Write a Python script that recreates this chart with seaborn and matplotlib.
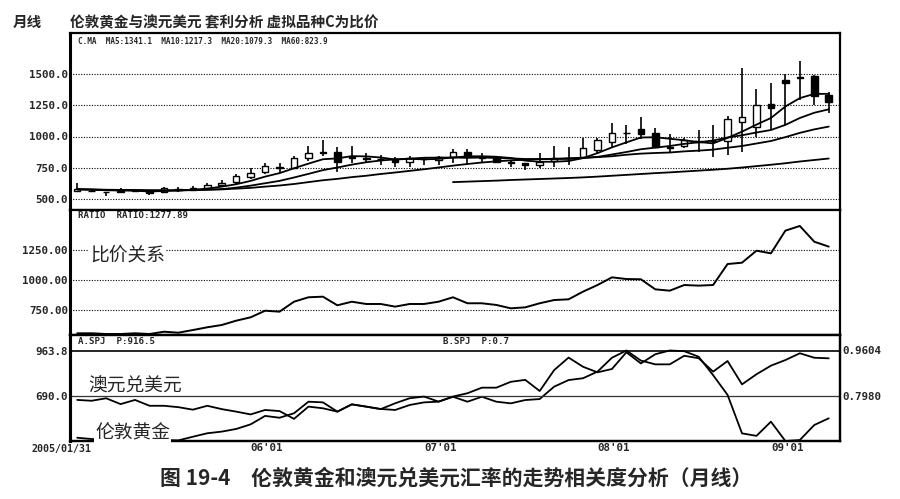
import numpy as np
import pandas as pd
import matplotlib
matplotlib.use("Agg")
import matplotlib.pyplot as plt
import seaborn as sns

# monthly bars 2005/01 .. 2009/05
c_open = [566, 567, 558, 553, 567, 565, 555, 582, 574, 585, 615, 635, 680, 715, 760, 752, 825, 872,
          879, 832, 830, 818, 818, 800, 822, 815, 833, 879, 840, 833, 800, 787, 775, 805, 830, 840,
          895, 960, 1025, 1057, 1025, 915, 925, 968, 962, 967, 1115, 1075, 1260, 1455, 1468, 1484, 1332]
c_high = [625, 570, 560, 585, 575, 568, 598, 596, 602, 630, 655, 700, 752, 785, 790, 844, 924, 975,
          913, 924, 870, 852, 833, 844, 833, 844, 897, 897, 871, 845, 805, 790, 871, 924, 913, 985,
          985, 1111, 1092, 1159, 1065, 1020, 985, 1052, 1092, 1164, 1545, 1377, 1425, 1500, 1607, 1492, 1359]
c_low = [559, 556, 525, 548, 558, 535, 548, 556, 565, 572, 600, 620, 660, 700, 712, 737, 807, 845,
         718, 785, 800, 772, 753, 753, 772, 772, 785, 772, 785, 785, 760, 732, 745, 759, 772, 825,
         871, 919, 940, 977, 905, 880, 910, 879, 839, 852, 879, 993, 1052, 1092, 1292, 1252, 1185]
c_close = [582, 561, 553, 567, 565, 552, 585, 574, 592, 612, 630, 684, 705, 764, 752, 825, 870, 880,
           800, 838, 818, 824, 800, 825, 820, 838, 879, 844, 830, 800, 787, 775, 800, 830, 826, 905,
           972, 1030, 1030, 1022, 915, 912, 972, 960, 965, 1137, 1159, 1252, 1228, 1425, 1473, 1325, 1278]

ma5 = [578, 575, 570, 568, 566, 560, 564, 569, 574, 583, 599, 618, 645, 679, 707, 746, 783, 818,
       825, 843, 841, 832, 816, 821, 817, 821, 832, 841, 842, 838, 828, 807, 798, 798, 804, 827,
       867, 913, 953, 992, 994, 982, 970, 956, 945, 989, 1039, 1095, 1148, 1240, 1307, 1341, 1341.1]
ma10 = [577, 575, 573, 572, 571, 568, 569, 569, 571, 574, 579, 591, 607, 626, 645, 672, 701, 731,
        752, 775, 794, 808, 817, 823, 830, 831, 832, 829, 832, 828, 825, 820, 820, 820, 821, 828,
        837, 856, 876, 898, 911, 924, 941, 954, 968, 992, 1010, 1032, 1052, 1093, 1148, 1190, 1217.3]
ma20 = [578, 576, 574, 573, 572, 570, 569, 569, 572, 575, 577, 583, 589, 599, 608, 620, 635, 650,
        661, 675, 686, 700, 712, 725, 738, 752, 767, 780, 792, 801, 809, 814, 819, 822, 826, 830,
        835, 842, 854, 863, 868, 872, 881, 887, 895, 910, 924, 944, 964, 995, 1029, 1057, 1079.3]
ma60_start = 26
ma60 = [635, 639, 643, 647, 652, 656, 660, 664, 668, 673, 679, 686, 693, 700, 707, 713, 720, 727,
        734, 742, 752, 763, 774, 786, 800, 812, 823.9]

ratio = [556, 556, 550, 550, 556, 550, 569, 561, 583, 606, 625, 661, 689, 744, 736, 819, 856, 861,
         789, 819, 800, 800, 778, 800, 800, 819, 856, 806, 806, 792, 764, 772, 806, 833, 839, 903,
         958, 1022, 1008, 1006, 922, 911, 958, 953, 958, 1133, 1144, 1244, 1222, 1411, 1450, 1319, 1277.89]

gold = [436, 428, 428, 422, 427, 416.2, 422, 420, 442, 463, 473, 489, 517, 568, 557, 584, 654, 650,
        594, 638, 624, 610, 604, 634, 650, 654, 684, 654, 684, 654, 644, 664, 670, 745, 785, 796,
        836, 920, 963.8, 903, 880, 880, 932, 917, 836, 900, 759, 820, 872, 906, 947, 920, 916.5]
aud = [0.783, 0.780, 0.789, 0.768, 0.783, 0.762, 0.762, 0.757, 0.748, 0.762, 0.750, 0.741, 0.731,
       0.747, 0.743, 0.715, 0.759, 0.753, 0.741, 0.767, 0.759, 0.750, 0.771, 0.789, 0.795, 0.777,
       0.795, 0.807, 0.827, 0.827, 0.848, 0.855, 0.815, 0.890, 0.935, 0.902, 0.882, 0.894, 0.954,
       0.914, 0.947, 0.9604, 0.958, 0.938, 0.872, 0.801, 0.663, 0.654, 0.705, 0.6356, 0.639, 0.693, 0.717]

date_ticks = [12, 24, 36, 48]
date_labels = ["06'01", "07'01", "08'01", "09'01"]

sns.set_style("white")
plt.rcParams['font.family'] = ['Noto Sans CJK SC', 'DejaVu Sans']
MONO = 'DejaVu Sans Mono'

fig = plt.figure(figsize=(9, 4.99), dpi=100)
W, H = 900, 499


def box(top, bottom):
    return [70 / W, 1 - bottom / H, 770 / W, (bottom - top) / H]


ax1 = fig.add_axes(box(33, 210))
ax2 = fig.add_axes(box(210, 335))
ax3 = fig.add_axes(box(335, 441))
ax3r = ax3.twinx()

bars = np.arange(len(c_close))
dot = (0, (1, 1.4))

# --- panel 1: candles + moving averages
df = pd.DataFrame({'bar': bars, 'o': c_open, 'h': c_high, 'l': c_low, 'c': c_close})
up = df['c'] >= df['o']
ax1.vlines(df['bar'], df['l'], df['h'], color='black', lw=1.2, zorder=3)
span = (df['c'] - df['o']).abs()
body = span.clip(lower=5)
bottom = np.minimum(df['o'], df['c']) - (body - span) / 2
ax1.bar(df['bar'], body, bottom=bottom, width=0.45,
        color=np.where(up, 'white', 'black'), edgecolor='black', linewidth=1.0, zorder=4)
for ma in (ma5, ma10, ma20):
    sns.lineplot(x=bars, y=ma, ax=ax1, color='black', linewidth=1.3, zorder=5)
sns.lineplot(x=bars[ma60_start:], y=ma60, ax=ax1, color='black', linewidth=1.3, zorder=5)
ax1.set_ylim(412, 1828)
grid1 = [500, 750, 1000, 1250, 1500]
for v in grid1:
    ax1.axhline(v, color='black', lw=0.8, ls=dot, zorder=1)
ax1.set_yticks(grid1, [f"{v:.1f}" for v in grid1])

# --- panel 2: ratio line
sns.lineplot(x=bars, y=ratio, ax=ax2, color='black', linewidth=1.4)
ax2.set_ylim(541.7, 1583)
grid2 = [750, 1000, 1250]
for v in grid2:
    ax2.axhline(v, color='black', lw=0.8, ls=dot, zorder=1)
ax2.set_yticks(grid2, [f"{v:.2f}" for v in grid2])

# --- panel 3: gold (left scale) vs AUD/USD (right scale)
sns.lineplot(x=bars, y=gold, ax=ax3, color='black', linewidth=1.3)
sns.lineplot(x=bars, y=aud, ax=ax3r, color='black', linewidth=1.3)
ax3.set_ylim(416.2, 1057.6)
ax3r.set_ylim(0.6356, 1.016)
ax3.axhline(963.8, color='black', lw=1.2)
ax3.axhline(690.0, color='#333333', lw=0.9)
ax3.set_yticks([690.0, 963.8], ["690.0", "963.8"])
ax3r.set_yticks([0.798, 0.9604], ["0.7980", "0.9604"])
ax3.set_xticks(date_ticks, date_labels)
for t in ax3.get_xticklabels():
    t.set_horizontalalignment('left')

for ax in (ax1, ax2, ax3, ax3r):
    ax.set_xlim(-0.5, 52.78)
    ax.set_xlabel('')
    ax.set_ylabel('')
    for s in ax.spines.values():
        s.set_visible(True)
        s.set_color('black')
        s.set_linewidth(1.6)
    ax.spines['left'].set_linewidth(2.2)
    ax.tick_params(length=0, pad=1.5)
    for t in ax.get_yticklabels() + ax.get_xticklabels():
        t.set_fontfamily(MONO)
        t.set_fontweight('bold')
        t.set_fontsize(7.8)
for ax in (ax1, ax2):
    ax.set_xticks([])
ax3r.tick_params(axis='y', pad=2)

# --- texts
fig.text(13 / W, 1 - 22 / H, "月线", fontsize=10.5, fontweight='bold', va='center')
fig.text(70 / W, 1 - 22 / H, "伦敦黄金与澳元美元 套利分析 虚拟品种C为比价",
         fontsize=10.5, fontweight='bold', va='center')
fig.text(78 / W, 1 - 41 / H, "C.MA  MA5:1341.1  MA10:1217.3  MA20:1079.3  MA60:823.9",
         family=MONO, fontsize=5.5, fontweight='bold', va='center')
fig.text(78 / W, 1 - 216 / H, "RATIO  RATIO:1277.89", family=MONO, fontsize=6.6,
         fontweight='bold', va='center')
fig.text(78 / W, 1 - 342 / H, "A.SPJ  P:916.5", family=MONO, fontsize=6.6,
         fontweight='bold', va='center')
fig.text(443 / W, 1 - 342 / H, "B.SPJ  P:0.7", family=MONO, fontsize=6.6,
         fontweight='bold', va='center')
fig.text(90 / W, 1 - 255 / H, "比价关系", fontsize=13.5, va='center',
         bbox=dict(facecolor='white', edgecolor='none', pad=0.5))
fig.text(88 / W, 1 - 386 / H, "澳元兑美元", fontsize=13.5, va='center')
fig.text(95 / W, 1 - 433 / H, "伦敦黄金", fontsize=13.5, va='center',
         bbox=dict(facecolor='white', edgecolor='none', pad=0.5))
fig.text(92 / W, 1 - 449 / H, "2005/01/31", family=MONO, fontsize=7.2,
         fontweight='bold', va='center', ha='right')
fig.text(160 / W, 1 - 478 / H, "图 19-4　伦敦黄金和澳元兑美元汇率的走势相关度分析（月线）",
         fontsize=15, fontweight='bold', va='center')

fig.savefig("out.png", dpi=100, facecolor='white')
